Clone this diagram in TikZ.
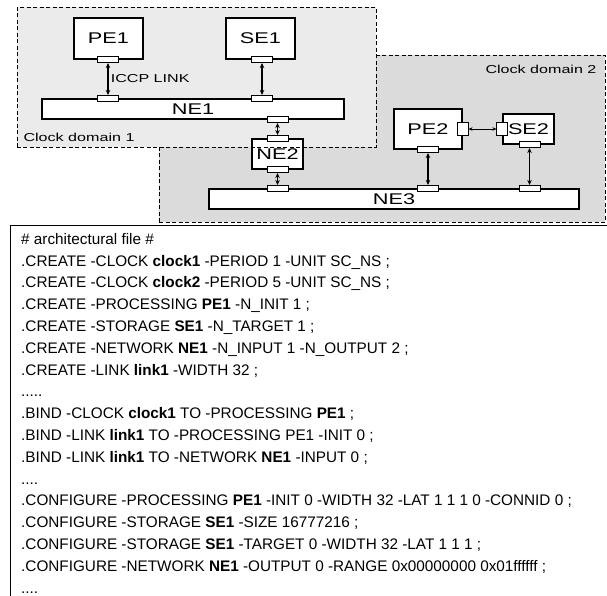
\documentclass[tikz,border=0pt]{standalone}
\usepackage{fontspec}
\setmainfont{Liberation Sans}
\newfontfamily\labelfont[FakeStretch=1.4]{Liberation Sans}
\usepackage{xcolor}
\usetikzlibrary{arrows.meta, positioning}

\definecolor{domlight}{gray}{0.92}
\definecolor{domdark}{gray}{0.86}

\begin{document}
\begin{tikzpicture}[
    x=1pt, y=-1pt,
    clockdom/.style={inner sep=0pt, outer sep=0pt},
    domborder/.style={dashed, dash pattern=on 4pt off 2.5pt, line width=1pt},
    elem/.style={
        draw, fill=white, line width=1.3pt, inner sep=0pt,
        font=\fontsize{15.5}{17}\labelfont
    },
    port/.style={
        draw, fill=white, line width=0.8pt, inner sep=0pt,
        minimum width=21pt, minimum height=6pt
    },
    vport/.style={
        draw, fill=white, line width=0.8pt, inner sep=0pt,
        minimum width=11pt, minimum height=13pt
    },
    small/.style={font=\fontsize{11.5}{13}\labelfont},
    link/.style={{Stealth[length=5pt,width=4.5pt]}-{Stealth[length=5pt,width=4.5pt]}, line width=1.6pt},
    thinlink/.style={{Stealth[length=4pt,width=3.5pt]}-{Stealth[length=4pt,width=3.5pt]}, line width=0.7pt},
    listing/.style={inner sep=0pt, align=left, font=\fontsize{15.3}{21.8}\selectfont}
]
\useasboundingbox (0,0) rectangle (607,595);
\clip (0,0) rectangle (607,595);

% clock domains
\node[clockdom, fill=domdark, draw, domborder, minimum width=446pt, minimum height=167pt] (dom2) at (382,138.5) {};
\node[clockdom, fill=domlight, minimum width=359pt, minimum height=140pt] (dom1) at (196.5,77) {};
\node[small, anchor=south west] (dom1lbl) at ([xshift=3pt, yshift=2pt]dom1.south west) {Clock domain 1};
\node[small, anchor=north east] (dom2lbl) at ([xshift=-5pt, yshift=-7pt]dom2.north east) {Clock domain 2};

% elements
\node[elem, minimum width=69pt, minimum height=41pt] (pe1) at (108.5,38.5) {PE1};
\node[elem, minimum width=69pt, minimum height=41pt] (se1) at (260.5,38.5) {SE1};
\node[elem, minimum width=302pt, minimum height=20pt] (ne1) at (193,109) {NE1};
\node[elem, minimum width=51pt, minimum height=30pt] (ne2) at (277.5,154) {NE2};
\node[elem, minimum width=68pt, minimum height=40pt] (pe2) at (428,129) {PE2};
\node[elem, minimum width=51pt, minimum height=30pt] (se2) at (528.5,129) {SE2};
\node[elem, minimum width=370pt, minimum height=20pt] (ne3) at (394,199) {NE3};

% ports
\node[port] (pe1p) at (pe1.south -| 108,0) {};
\node[port] (se1p) at (se1.south -| 262,0) {};
\node[port] (ne1pa) at (ne1.north -| 108,0) {};
\node[port] (ne1pb) at (ne1.north -| 262,0) {};
\node[port] (ne1pc) at (ne1.south -| 277.5,0) {};
\node[port] (ne2pa) at (ne2.north) {};
\node[port] (ne2pb) at (ne2.south) {};
\node[vport] (pe2pa) at (pe2.east) {};
\node[port] (pe2pb) at (pe2.south) {};
\node[vport] (se2pa) at (se2.west) {};
\node[port] (se2pb) at (se2.south -| 529.5,0) {};
\node[port] (ne3pa) at (ne3.north -| 277.5,0) {};
\node[port] (ne3pb) at (ne3.north -| 428,0) {};
\node[port] (ne3pc) at (ne3.north -| 529.5,0) {};

% links
\draw[link] (pe1p.south) -- node[small, right, inner sep=2pt] (iccp) {ICCP LINK} (ne1pa.north);
\draw[link] (se1p.south) -- (ne1pb.north);
\draw[link] (ne1pc.south) -- (ne2pa.north);
\draw[link] (ne2pb.south) -- (ne3pa.north);
\draw[link] (pe2pb.south) -- (ne3pb.north);
\draw[link] (se2pb.south) -- (ne3pc.north);
\draw[thinlink] (pe2pa.east) -- (se2pa.west);

\draw[domborder] (dom1.south west) rectangle (dom1.north east);

% architectural file
\node[draw, line width=1.2pt, anchor=north west, minimum width=700pt, minimum height=500pt] (codebox) at (10,225) {};
\node[listing, anchor=north west] (code) at (21,233) {%
\# architectural file \#\\
.CREATE -CLOCK \textbf{clock1} -PERIOD 1 -UNIT SC\_NS ;\\
.CREATE -CLOCK \textbf{clock2} -PERIOD 5 -UNIT SC\_NS ;\\
.CREATE -PROCESSING \textbf{PE1} -N\_INIT 1 ;\\
.CREATE -STORAGE \textbf{SE1} -N\_TARGET 1 ;\\
.CREATE -NETWORK \textbf{NE1} -N\_INPUT 1 -N\_OUTPUT 2 ;\\
.CREATE -LINK \textbf{link1} -WIDTH 32 ;\\
.....\\
.BIND -CLOCK \textbf{clock1} TO -PROCESSING \textbf{PE1} ;\\
.BIND -LINK \textbf{link1} TO -PROCESSING PE1 -INIT 0 ;\\
.BIND -LINK \textbf{link1} TO -NETWORK \textbf{NE1} -INPUT 0 ;\\
....\\
.CONFIGURE -PROCESSING \textbf{PE1} -INIT 0 -WIDTH 32 -LAT 1 1 1 0 -CONNID 0 ;\\
.CONFIGURE -STORAGE \textbf{SE1} -SIZE 16777216 ;\\
.CONFIGURE -STORAGE \textbf{SE1} -TARGET 0 -WIDTH 32 -LAT 1 1 1 ;\\
.CONFIGURE -NETWORK \textbf{NE1} -OUTPUT 0 -RANGE 0x00000000 0x01ffffff ;\\
....};

\end{tikzpicture}
\end{document}
